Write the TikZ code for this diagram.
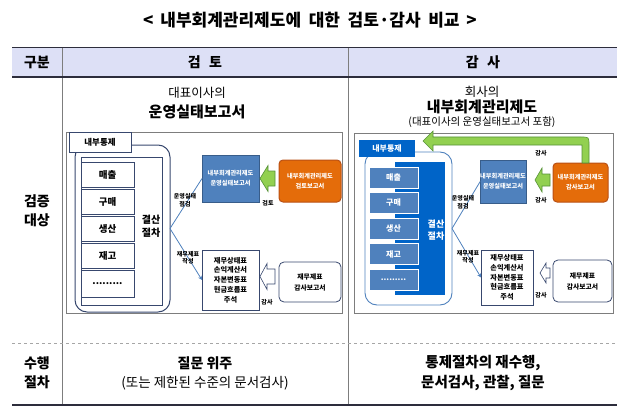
\documentclass[tikz,border=0pt]{standalone}
\usepackage{fontspec}
\setmainfont{Noto Sans CJK KR}
\usetikzlibrary{arrows.meta}
\definecolor{hdrfill}{RGB}{221,224,246}
\definecolor{tline}{RGB}{45,45,60}
\definecolor{navy}{RGB}{56,72,110}
\definecolor{steel}{RGB}{79,129,189}
\definecolor{steeldk}{RGB}{56,93,138}
\definecolor{dkblue}{RGB}{0,100,200}
\definecolor{orng}{RGB}{228,108,10}
\definecolor{orngdk}{RGB}{185,80,20}
\definecolor{grn}{RGB}{146,208,80}
\definecolor{grndk}{RGB}{85,145,55}
\definecolor{frame}{RGB}{125,125,125}
\begin{document}
\begin{tikzpicture}[x=1pt,y=-1pt,
  every node/.style={inner sep=0pt, outer sep=0pt, align=center},
  hdrtxt/.style={font=\fontsize{14}{16}\selectfont\bfseries},
  rowtxt/.style={font=\fontsize{14}{19}\selectfont\bfseries},
  tinytxt/.style={font=\fontsize{6}{7.5}\selectfont\bfseries},
  frm/.style={draw=frame, line width=0.8pt},
  itemL/.style={draw=navy, line width=1pt, fill=white, minimum width=53, minimum height=25, font=\fontsize{9.5}{10}\selectfont\bfseries},
  itemR/.style={draw=white, line width=0.6pt, fill=steel, text=white, minimum width=49, minimum height=21, font=\fontsize{8}{9}\selectfont\bfseries},
  repbox/.style={draw=steeldk, line width=0.6pt, fill=steel, text=white, font=\fontsize{6.2}{10}\selectfont\bfseries},
  orgbox/.style={draw=orngdk, line width=1pt, fill=orng, text=white, rounded corners=4, font=\fontsize{6.2}{10}\selectfont\bfseries},
  fsbox/.style={draw=navy, line width=0.8pt, fill=white, font=\fontsize{7.2}{9.7}\selectfont\bfseries},
  audbox/.style={draw=navy, line width=0.8pt, fill=white, rounded corners=5, font=\fontsize{6.8}{11}\selectfont\bfseries},
  conn/.style={draw=steel, line width=0.8pt},
  garrow/.style={fill=grn, draw=grndk, line width=0.6pt},
  warrow/.style={fill=white, draw=navy, line width=0.6pt}
]
\useasboundingbox (0,0) rectangle (630,420);

% title
\node[font=\fontsize{17}{20}\selectfont\bfseries] (title) at (310,20) {<\hspace{0.4em}내부회계관리제도에\hspace{0.45em}대한\hspace{0.45em}검토·감사\hspace{0.45em}비교\hspace{0.4em}>};

% table
\fill[hdrfill] (12,48) rectangle (617,77);
\draw[tline, line width=1pt] (12,48) -- (617,48);
\draw[frame, line width=0.6pt] (62,48) -- (62,405);
\draw[frame, line width=0.6pt] (348,48) -- (348,405);
\draw[tline, line width=2pt] (12,77) -- (617,77);
\draw[gray!70, dashed, line width=0.5pt] (12,343) -- (617,343);
\draw[tline, line width=2.2pt] (12,405) -- (617,405);

\node[hdrtxt] (hA) at (37,62) {구분};
\node[hdrtxt] (hB) at (205,62) {검\hspace{0.6em}토};
\node[hdrtxt] (hC) at (483,62) {감\hspace{0.6em}사};

\node[rowtxt] (r1) at (37,211) {검증\\대상};
\node[rowtxt] (r2) at (37,373) {수행\\절차};

\node[font=\fontsize{14}{16}\selectfont\bfseries] (b1) at (205,363) {질문 위주};
\node[font=\fontsize{13.5}{16}\selectfont] (b2) at (205,383) {(또는 제한된 수준의 문서검사)};
\node[font=\fontsize{14.5}{20.5}\selectfont\bfseries] (c1) at (483,373) {통제절차의 재수행,\\문서검사, 관찰, 질문};

% headings
\node[font=\fontsize{12.5}{14}\selectfont] (lh1) at (197,93) {대표이사의};
\node[font=\fontsize{15}{17}\selectfont\bfseries] (lh2) at (197,112) {운영실태보고서};
\node[font=\fontsize{12.5}{14}\selectfont] (rh1) at (482,92) {회사의};
\node[font=\fontsize{15}{17}\selectfont\bfseries] (rh2) at (482,107) {내부회계관리제도};
\node[font=\fontsize{10.5}{12}\selectfont] (rh3) at (482,122) {(대표이사의 운영실태보고서 포함)};

% ================= left diagram
\node[frm, minimum width=276, minimum height=181] (Lframe) at (204,222.5) {};
\node[draw=navy, line width=1pt, rounded corners=12, minimum width=95, minimum height=167] (Lcont) at (122.5,228.5) {};
\node[draw=navy, line width=1pt, fill=white, minimum width=81, minimum height=148] (Linner) at (121.5,231) {};
\node[itemL] (L1) at (107.5,174.5) {매출};
\node[itemL] (L2) at (107.5,201.5) {구매};
\node[itemL] (L3) at (107.5,228.5) {생산};
\node[itemL] (L4) at (107.5,255.5) {재고};
\node[itemL, minimum height=27] (L5) at (107.5,284) {.........};
\node[draw=navy, line width=1pt, fill=white, minimum width=62, minimum height=19, font=\fontsize{8.5}{9}\selectfont\bfseries] (Lctl) at (100,142.5) {내부통제};
\node[font=\fontsize{10}{13}\selectfont\bfseries] (Lsettle) at (151,226) {결산\\절차};

\node[repbox, minimum width=57, minimum height=47] (Lrep) at (230.5,178.5) {내부회계관리제도\\운영실태보고서};
\node[fsbox, minimum width=57, minimum height=60] (Lfs) at (230.5,280) {재무상태표\\손익계산서\\자본변동표\\현금흐름표\\주석};
\draw[conn] (Lcont.east) -- (Lrep.west);
\draw[conn, -{Stealth[length=4pt,width=4pt]}] (Lcont.east) -- (Lfs.west);
\node[tinytxt] (Llb1) at (185,200) {운영실태\\점검};
\node[tinytxt] (Llb2) at (188,258) {재무제표\\작성};

\node[orgbox, minimum width=62, minimum height=42] (Lorg) at (310,181) {내부회계관리제도\\검토보고서};
\node[audbox, minimum width=62, minimum height=40] (Laud) at (310,282) {재무제표\\감사보고서};
\draw[garrow] (260,178.5) -- (268,165.5) -- (268,171) -- (275,171) -- (275,186) -- (268,186) -- (268,191.5) -- cycle;
\draw[warrow] (260,276.5) -- (267,263.5) -- (267,269) -- (275,269) -- (275,284) -- (267,284) -- (267,289.5) -- cycle;
\node[tinytxt] (Llb3) at (268,203) {검토};
\node[tinytxt] (Llb4) at (267,302) {감사};

% ================= right diagram
\node[frm, minimum width=259, minimum height=180] (Rframe) at (483.5,223) {};
\node[draw=steel, line width=0.9pt, rounded corners=12, minimum width=87, minimum height=153] (Rcont) at (408.5,228.5) {};
\node[fill=dkblue, minimum width=50, minimum height=133] (Rdark) at (420,228.5) {};
\node[itemR] (R1) at (393.5,177.5) {매출};
\node[itemR] (R2) at (393.5,203) {구매};
\node[itemR] (R3) at (393.5,228.5) {생산};
\node[itemR] (R4) at (393.5,254) {재고};
\node[itemR] (R5) at (393.5,279.5) {.........};
\node[fill=dkblue, text=white, minimum width=56, minimum height=17, font=\fontsize{8}{9}\selectfont\bfseries] (Rctl) at (387,148.5) {내부통제};
\node[text=white, font=\fontsize{9}{12}\selectfont\bfseries] (Rsettle) at (436,230) {결산\\절차};

\node[repbox, minimum width=44, minimum height=43] (Rrep) at (503,181.5) {내부회계관리제도\\운영실태보고서};
\node[fsbox, minimum width=52, minimum height=55] (Rfs) at (507,277.5) {재무상태표\\손익계산서\\자본변동표\\현금흐름표\\주석};
\draw[conn] (Rcont.east) -- (Rrep.west);
\draw[conn, -{Stealth[length=4pt,width=4pt]}] (Rcont.east) -- (Rfs.west);
\node[tinytxt] (Rlb1) at (463,202) {운영실태\\점검};
\node[tinytxt] (Rlb2) at (468,257) {재무제표\\작성};

\node[orgbox, minimum width=55, minimum height=39] (Rorg) at (580.5,182.5) {내부회계관리제도\\감사보고서};
\node[audbox, minimum width=59, minimum height=42] (Raud) at (582.5,281) {재무제표\\감사보고서};
\draw[garrow] (535,180) -- (542,168) -- (542,174) -- (550,174) -- (550,186) -- (542,186) -- (542,192) -- cycle;
\draw[warrow] (540,273) -- (546,263) -- (546,268) -- (550,268) -- (550,278) -- (546,278) -- (546,283) -- cycle;
\draw[garrow] (589,163) -- (589,145) .. controls (589,137) .. (581,137) -- (433,137) -- (433,131) -- (423,141) -- (433,151) -- (433,145) -- (582,145) -- (582,163) -- cycle;
\node[tinytxt] (Rlb3) at (541,153) {감사};
\node[tinytxt] (Rlb4) at (541,200) {감사};
\node[tinytxt] (Rlb5) at (541,295) {감사};
\end{tikzpicture}
\end{document}
